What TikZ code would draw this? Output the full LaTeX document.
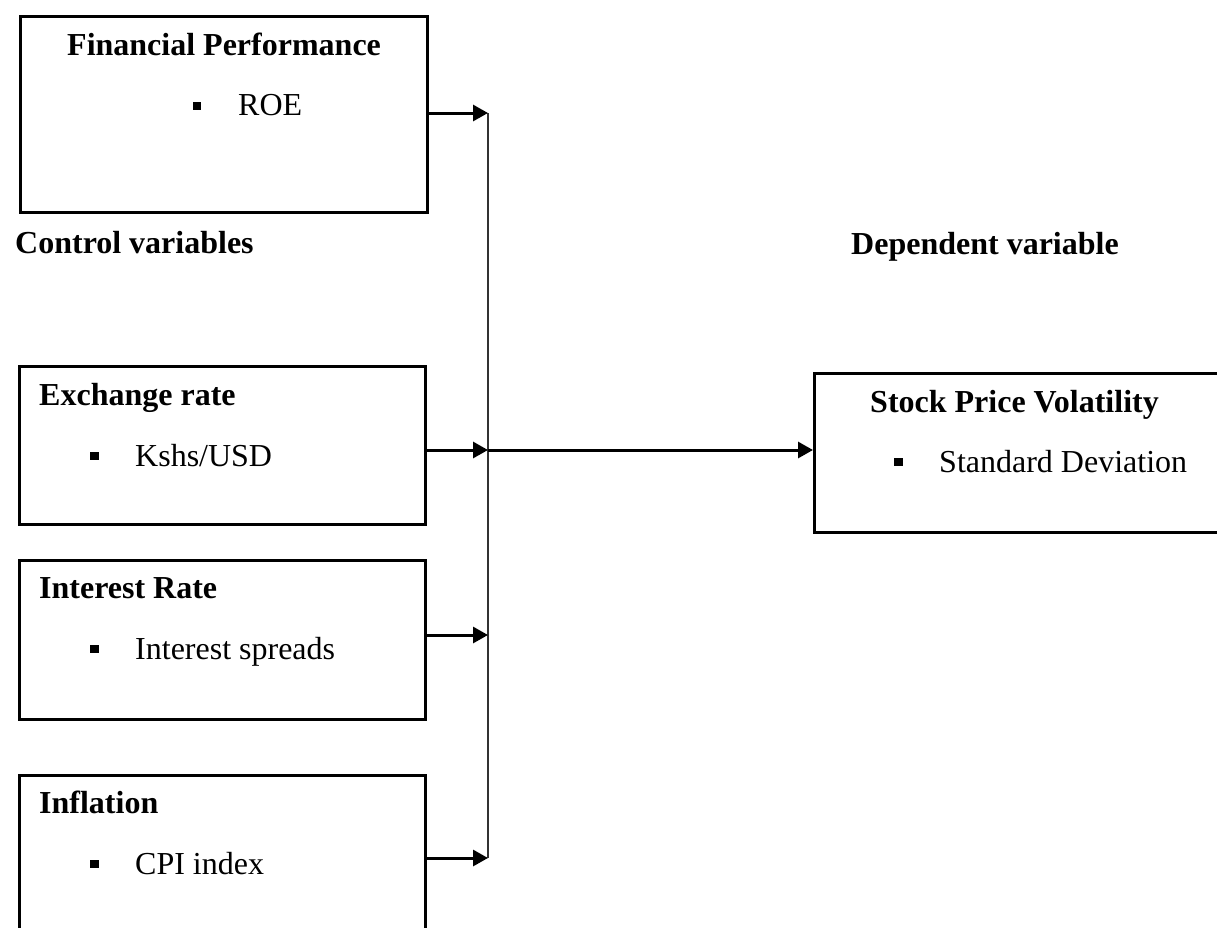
\documentclass[tikz,border=0pt]{standalone}
\usepackage{fontspec}
\setmainfont{Liberation Serif}
\usetikzlibrary{arrows.meta}
\begin{document}
\begin{tikzpicture}[x=1pt,y=-1pt,
  box/.style={draw=black,line width=3pt,inner sep=0pt,anchor=north west},
  txt/.style={inner sep=0pt,anchor=base west,font=\fontsize{32}{38}\selectfont},
  head/.style={txt,font=\fontsize{32}{38}\selectfont\bfseries},
  arr/.style={line width=3pt,-{Triangle[length=15pt,width=16pt]}},
  bus/.style={line width=1.8pt,draw=black!80},
  bul/.style={fill=black}]
\useasboundingbox (0,0) rectangle (1217,927);
\clip (0,0) rectangle (1217,927);
% boxes
\node[box,minimum width=407pt,minimum height=196pt] (fp) at (19,15) {};
\node[box,minimum width=406pt,minimum height=158pt] (ex) at (18,365) {};
\node[box,minimum width=406pt,minimum height=159pt] (ir) at (18,559) {};
\node[box,minimum width=406pt,minimum height=200pt] (inf) at (18,774) {};
\node[box,minimum width=430pt,minimum height=159pt] (spv) at (813,372) {};
% texts
\node[head] (fpt) at (67,55) {Financial Performance};
\node[txt] (roe) at (238,115) {ROE};
\node[head] (cv) at (15,253) {Control variables};
\node[head] (dv) at (851,254) {Dependent variable};
\node[head] (ext) at (39,405) {Exchange rate};
\node[txt] (ksh) at (135,466) {Kshs/USD};
\node[head] (irt) at (39,598) {Interest Rate};
\node[txt] (isp) at (135,659) {Interest spreads};
\node[head] (inft) at (39,813) {Inflation};
\node[txt] (cpi) at (135,874) {CPI index};
\node[head] (spvt) at (870,412) {Stock Price Volatility};
\node[txt] (sd) at (939,472) {Standard Deviation};
% bullets
\fill[bul] (193,102) rectangle (201,110);
\fill[bul] (90,452) rectangle (99,460);
\fill[bul] (90,645) rectangle (99,653);
\fill[bul] (90,860) rectangle (99,868);
\fill[bul] (894,458) rectangle (903,466);
% bus
\coordinate (b1) at (488,113);
\coordinate (b2) at (488,450);
\coordinate (b3) at (488,635);
\coordinate (b4) at (488,858);
\draw[bus] (b1) -- (b4);
\draw[arr] (b1 -| fp.east) -- (b1);
\draw[arr] (b2 -| ex.east) -- (b2);
\draw[arr] (b3 -| ir.east) -- (b3);
\draw[arr] (b4 -| inf.east) -- (b4);
\draw[arr] (b2) -- (b2 -| spv.west);
\end{tikzpicture}
\end{document}
